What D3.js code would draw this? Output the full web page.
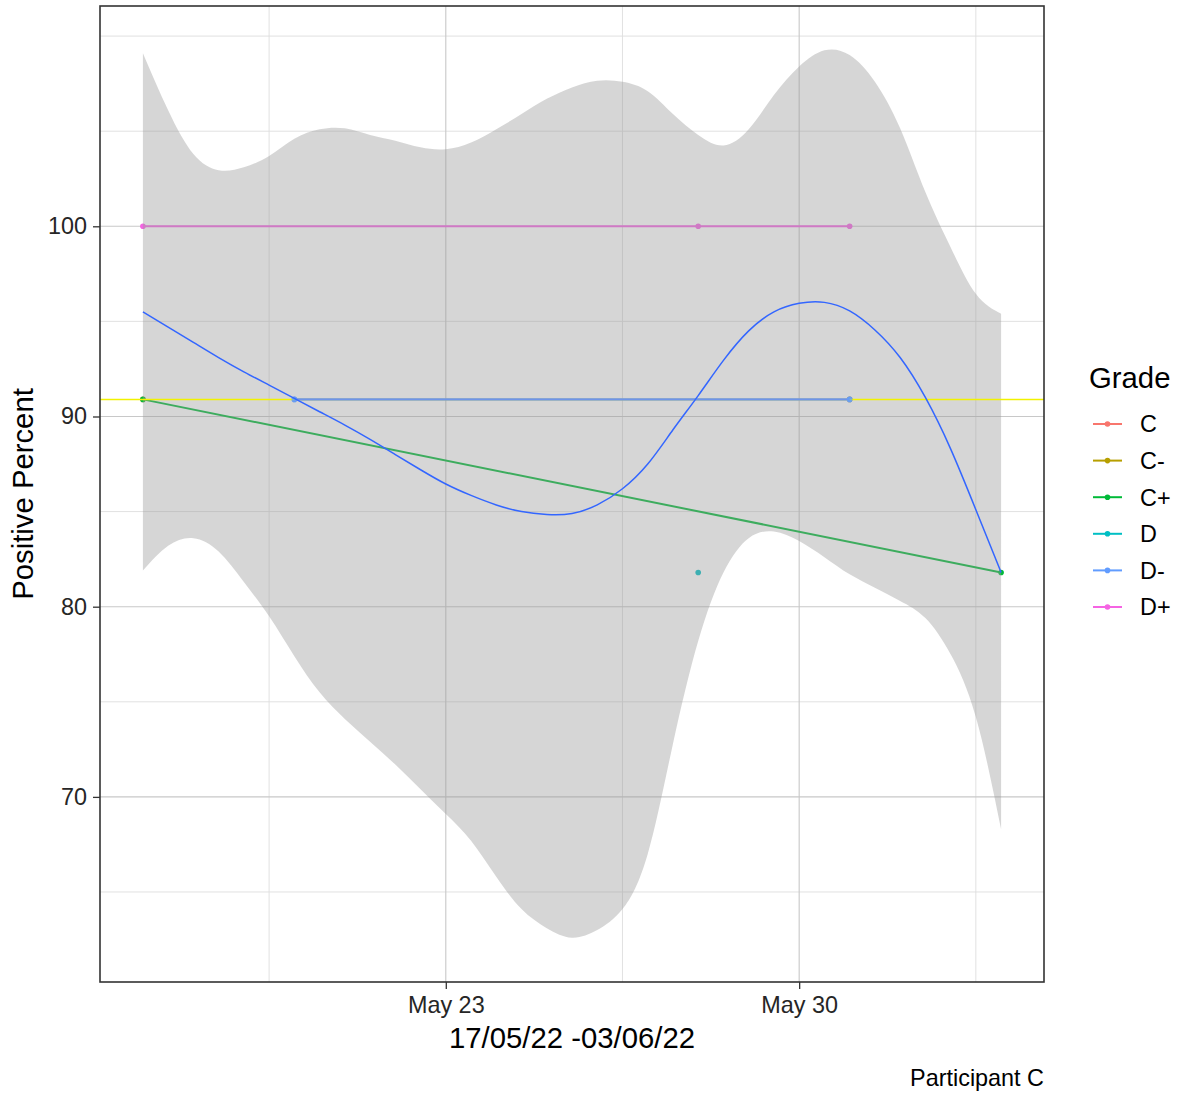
<!DOCTYPE html>
<html>
<head>
<meta charset="utf-8">
<script src="https://cdn.jsdelivr.net/npm/d3@7"></script>
<style>
  html, body { margin: 0; padding: 0; background: #ffffff; }
  svg { display: block; font-family: "Liberation Sans", Arial, Helvetica, sans-serif; }
</style>
</head>
<body>
<svg id="chart" width="1181" height="1095"></svg>
<script>
// ---- observations: one row per recorded grade ----
const obsDate    = ["2022-05-17", "2022-05-17", "2022-05-17", "2022-05-20", "2022-05-28", "2022-05-28", "2022-05-31", "2022-05-31", "2022-05-31", "2022-06-03"];
const obsGrade   = ["C", "C+", "D+", "D-", "D+", "D", "C-", "D-", "D+", "C+"];
const obsPercent = [90.9, 90.9, 100, 90.9, 100, 81.8, 90.9, 90.9, 100, 81.8];

// ---- grade levels and their colours ----
const grades      = ["C", "C-", "C+", "D", "D-", "D+"];
const gradeColors = ["#F8766D", "#B79F00", "#00BA38", "#00BFC4", "#619CFF", "#F564E3"];

// ---- reference line ----
const referenceLevel = 90.9;

// ---- loess smooth: days after the first session, fitted value and confidence band ----
const smoothDay = [0, 0.5, 1, 1.5, 2, 2.5, 3, 3.5, 4, 4.5, 5, 5.5, 6, 6.5, 7, 7.5, 8, 8.5,
                   9, 9.5, 10, 10.5, 11, 11.5, 12, 12.5, 13, 13.5, 14, 14.5, 15, 15.5, 16, 16.5, 17];
const smoothFit = [95.5, 94.7, 93.9, 93.1, 92.35, 91.65, 90.95, 90.25, 89.55, 88.8, 88.0, 87.2, 86.45, 85.85, 85.35, 85.0, 84.85, 84.9,
                   85.35, 86.2, 87.5, 89.3, 91.1, 92.95, 94.5, 95.5, 95.95, 96.0, 95.55, 94.55, 93.1, 91.0, 88.3, 85.1, 81.8];
const smoothLower = [81.9, 83.2, 83.6, 82.9, 81.3, 79.5, 77.4, 75.5, 74.1, 72.9, 71.7, 70.4, 69.1, 67.7, 65.8, 64.1, 63.1, 62.6,
                     63.0, 64.1, 67.0, 72.8, 78.2, 81.8, 83.6, 83.95, 83.45, 82.6, 81.7, 81.0, 80.3, 79.4, 77.5, 74.2, 68.3];
const smoothUpper = [109.1, 106.1, 103.8, 102.95, 103.1, 103.7, 104.6, 105.1, 105.15, 104.8, 104.5, 104.15, 104.05, 104.4, 105.1, 105.9, 106.7, 107.3,
                     107.65, 107.6, 107.1, 105.9, 104.8, 104.25, 105.1, 106.9, 108.4, 109.25, 109.0, 107.6, 105.15, 101.8, 98.9, 96.45, 95.4];

// ---- axis breaks ----
const yMajor = [70, 80, 90, 100];
const yMinor = [65, 75, 85, 95, 105, 110];
const xMajor = ["2022-05-23", "2022-05-30"];
const xMinor = ["2022-05-19T12:00", "2022-05-26T12:00", "2022-06-02T12:00"];

// ---- labels ----
const yTitle = "Positive Percent";
const xTitle = "17/05/22 -03/06/22";
const captionText = "Participant C";
const legendTitle = "Grade";

// ---------------------------------------------------------------
const parseDay = d3.utcParse("%Y-%m-%d");
const parseDayTime = d3.utcParse("%Y-%m-%dT%H:%M");
const DAY = 864e5;

const rows = obsDate.map((d, i) => ({ date: parseDay(d), grade: obsGrade[i], value: obsPercent[i] }));
const startDate = d3.min(rows, r => r.date);
const endDate = d3.max(rows, r => r.date);

const smooth = smoothDay.map((d, i) => ({
  date: new Date(startDate.getTime() + d * DAY),
  fit: smoothFit[i], lo: smoothLower[i], hi: smoothUpper[i]
}));

const panel = { left: 100, top: 6, right: 1044, bottom: 982 };
const svg = d3.select("#chart");

// 5% expansion on both axes
const span = endDate - startDate;
const x = d3.scaleUtc()
  .domain([new Date(+startDate - 0.05 * span), new Date(+endDate + 0.05 * span)])
  .range([panel.left, panel.right]);

const yLo = Math.min(d3.min(smoothLower), d3.min(obsPercent));
const yHi = Math.max(d3.max(smoothUpper), d3.max(obsPercent));
const yPad = (yHi - yLo) * 0.05;
const y = d3.scaleLinear().domain([yLo - yPad, yHi + yPad]).range([panel.bottom, panel.top]);

const color = d3.scaleOrdinal().domain(grades).range(gradeColors);

// clip everything inside the panel
svg.append("defs").append("clipPath").attr("id", "panelClip")
  .append("rect")
  .attr("x", panel.left).attr("y", panel.top)
  .attr("width", panel.right - panel.left).attr("height", panel.bottom - panel.top);

const grid = svg.append("g");
const inYRange = v => v >= y.domain()[0] && v <= y.domain()[1];
const inXRange = d => d >= x.domain()[0] && d <= x.domain()[1];

// minor grid
grid.selectAll("line.ymin").data(yMinor.filter(inYRange)).join("line")
  .attr("x1", panel.left).attr("x2", panel.right)
  .attr("y1", d => y(d)).attr("y2", d => y(d))
  .attr("stroke", "#dedede").attr("stroke-width", 0.9);
grid.selectAll("line.xmin").data(xMinor.map(parseDayTime).filter(inXRange)).join("line")
  .attr("y1", panel.top).attr("y2", panel.bottom)
  .attr("x1", d => x(d)).attr("x2", d => x(d))
  .attr("stroke", "#dedede").attr("stroke-width", 0.9);
// major grid
grid.selectAll("line.ymaj").data(yMajor).join("line")
  .attr("x1", panel.left).attr("x2", panel.right)
  .attr("y1", d => y(d)).attr("y2", d => y(d))
  .attr("stroke", "#c8c8c8").attr("stroke-width", 1.1);
grid.selectAll("line.xmaj").data(xMajor.map(parseDay)).join("line")
  .attr("y1", panel.top).attr("y2", panel.bottom)
  .attr("x1", d => x(d)).attr("x2", d => x(d))
  .attr("stroke", "#c8c8c8").attr("stroke-width", 1.1);

const plot = svg.append("g").attr("clip-path", "url(#panelClip)");

// per-grade lines and points
const byGrade = d3.group(rows, r => r.grade);
const lineGen = d3.line().x(r => x(r.date)).y(r => y(r.value));
grades.forEach(g => {
  const pts = (byGrade.get(g) || []).slice().sort((a, b) => a.date - b.date);
  if (pts.length > 1) {
    plot.append("path").datum(pts)
      .attr("d", lineGen)
      .attr("fill", "none")
      .attr("stroke", color(g))
      .attr("stroke-width", g === "D-" ? 1.5 : 2);
  }
});
grades.forEach(g => {
  const pts = byGrade.get(g) || [];
  plot.selectAll(null).data(pts).join("circle")
    .attr("cx", r => x(r.date)).attr("cy", r => y(r.value))
    .attr("r", 2.8)
    .attr("fill", color(g));
});

// confidence band
const smoothCurve = d3.curveNatural;
plot.append("path").datum(smooth)
  .attr("d", d3.area().curve(smoothCurve)
    .x(s => x(s.date)).y0(s => y(s.lo)).y1(s => y(s.hi)))
  .attr("fill", "#999999").attr("fill-opacity", 0.4);

// horizontal reference line
plot.append("line")
  .attr("x1", panel.left).attr("x2", panel.right)
  .attr("y1", y(referenceLevel)).attr("y2", y(referenceLevel))
  .attr("stroke", "#F2F200").attr("stroke-width", 1.5);

// D- series sits above the reference line
const dMinus = (byGrade.get("D-") || []).slice().sort((a, b) => a.date - b.date);
plot.append("path").datum(dMinus)
  .attr("d", lineGen).attr("fill", "none")
  .attr("stroke", "#6f94e8").attr("stroke-width", 2.3);
plot.selectAll(null).data(dMinus).join("circle")
  .attr("cx", r => x(r.date)).attr("cy", r => y(r.value))
  .attr("r", 2.8).attr("fill", color("D-")).attr("fill-opacity", 0.7);

// fitted smooth line
plot.append("path").datum(smooth)
  .attr("d", d3.line().curve(smoothCurve).x(s => x(s.date)).y(s => y(s.fit)))
  .attr("fill", "none").attr("stroke", "#3366FF").attr("stroke-width", 1.5);

// panel border
svg.append("rect")
  .attr("x", panel.left).attr("y", panel.top)
  .attr("width", panel.right - panel.left).attr("height", panel.bottom - panel.top)
  .attr("fill", "none").attr("stroke", "#333333").attr("stroke-width", 1.6);

// axes
const yAxis = svg.append("g").attr("transform", `translate(${panel.left},0)`)
  .call(d3.axisLeft(y).tickValues(yMajor).tickSize(7).tickPadding(6));
const xAxis = svg.append("g").attr("transform", `translate(0,${panel.bottom})`)
  .call(d3.axisBottom(x).tickValues(xMajor.map(parseDay)).tickFormat(d3.utcFormat("%b %d")).tickSize(7).tickPadding(7));
[yAxis, xAxis].forEach(a => {
  a.select(".domain").remove();
  a.selectAll(".tick line").attr("stroke", "#333333").attr("stroke-width", 1.3);
  a.selectAll(".tick text").attr("fill", "#262626").attr("font-size", 23.4)
    .attr("font-family", "'Liberation Sans', Arial, sans-serif");
});

// axis titles
svg.append("text")
  .attr("x", (panel.left + panel.right) / 2).attr("y", 1048)
  .attr("text-anchor", "middle").attr("font-size", 29.3).attr("fill", "#000")
  .text(xTitle);
svg.append("text")
  .attr("transform", `translate(33,${(panel.top + panel.bottom) / 2}) rotate(-90)`)
  .attr("text-anchor", "middle").attr("font-size", 29.3).attr("fill", "#000")
  .text(yTitle);

// caption
svg.append("text")
  .attr("x", panel.right).attr("y", 1086)
  .attr("text-anchor", "end").attr("font-size", 23.4).attr("fill", "#000")
  .text(captionText);

// legend
const legend = svg.append("g");
legend.append("text")
  .attr("x", 1089).attr("y", 388)
  .attr("font-size", 29.3).attr("fill", "#000")
  .text(legendTitle);
const keyY0 = 424, keyStep = 36.6;
grades.forEach((g, i) => {
  const ky = keyY0 + i * keyStep;
  legend.append("line")
    .attr("x1", 1093).attr("x2", 1122).attr("y1", ky).attr("y2", ky)
    .attr("stroke", color(g)).attr("stroke-width", 2);
  legend.append("circle")
    .attr("cx", 1107.5).attr("cy", ky).attr("r", 2.8).attr("fill", color(g));
  legend.append("text")
    .attr("x", 1140).attr("y", ky).attr("dy", "0.36em")
    .attr("font-size", 23.4).attr("fill", "#000")
    .text(g);
});
</script>
</body>
</html>
